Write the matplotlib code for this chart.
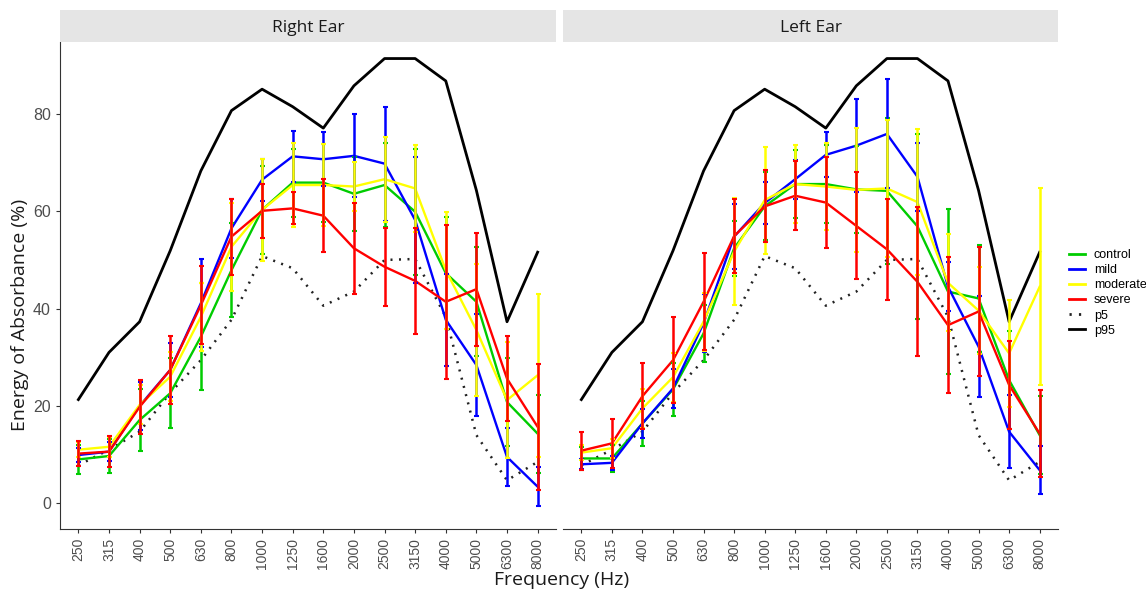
import matplotlib
matplotlib.use("Agg")
import matplotlib.pyplot as plt
from matplotlib.lines import Line2D
import numpy as np

freqs = ["250", "315", "400", "500", "630", "800", "1000", "1250", "1600",
         "2000", "2500", "3150", "4000", "5000", "6300", "8000"]

# normative percentiles (same in both ears)
p5 = [7.8, 11.0, 14.7, 22.7, 29.4, 37.7, 50.8, 48.3, 40.6, 43.5, 50.0, 50.2, 38.3, 14.0, 4.7, 8.5]
p95 = [21.3, 31.0, 37.3, 51.9, 68.3, 80.7, 85.1, 81.5, 77.1, 85.8, 91.4, 91.4, 86.8, 64.3, 37.3, 51.6]

# right ear: means and error half-widths
r_control = [9.0, 9.7, 17.1, 22.6, 34.2, 47.9, 60.3, 65.9, 65.9, 63.6, 65.4, 59.9, 47.3, 41.4, 20.8, 14.3]
r_control_err = [3.0, 3.5, 6.3, 7.2, 11.0, 9.6, 9.0, 7.0, 8.0, 7.6, 8.6, 13.0, 11.5, 11.2, 9.0, 8.0]
r_mild = [9.9, 10.6, 20.0, 27.4, 41.1, 56.5, 66.5, 71.3, 70.7, 71.4, 69.8, 58.2, 37.7, 28.4, 9.5, 3.4]
r_mild_err = [1.5, 2.0, 5.0, 5.5, 9.0, 6.0, 4.3, 5.2, 5.5, 8.5, 11.7, 13.0, 9.5, 10.5, 6.0, 4.0]
r_moderate = [11.0, 11.6, 20.2, 26.0, 38.3, 52.7, 60.3, 65.4, 65.4, 65.1, 66.6, 64.7, 47.9, 35.6, 21.2, 26.3]
r_moderate_err = [1.5, 2.0, 4.0, 5.0, 7.0, 9.0, 10.5, 8.7, 8.5, 5.0, 8.7, 9.0, 12.0, 13.5, 12.0, 16.7]
r_severe = [10.2, 10.6, 19.8, 27.4, 40.7, 54.8, 60.1, 60.6, 59.1, 52.4, 48.6, 45.7, 41.4, 44.0, 25.6, 15.7]
r_severe_err = [2.5, 3.2, 5.5, 7.0, 8.0, 7.8, 5.5, 3.3, 7.5, 9.3, 8.0, 10.9, 15.8, 11.6, 8.7, 13.0]

# left ear
l_control = [9.2, 9.2, 16.4, 23.4, 34.9, 52.4, 61.0, 65.6, 65.6, 64.5, 64.2, 56.9, 43.5, 42.1, 25.3, 14.0]
l_control_err = [2.4, 2.8, 4.7, 5.5, 5.8, 5.6, 7.0, 7.0, 8.0, 9.0, 15.0, 19.0, 17.0, 11.0, 10.0, 8.0]
l_mild = [8.0, 8.3, 16.4, 23.6, 37.0, 54.8, 61.7, 66.6, 71.6, 73.5, 75.9, 67.1, 44.5, 32.2, 14.7, 6.8]
l_mild_err = [1.0, 1.5, 3.0, 4.0, 6.0, 6.6, 4.3, 4.0, 4.6, 9.5, 11.2, 7.0, 5.0, 10.3, 7.5, 5.0]
l_moderate = [10.4, 11.3, 19.5, 25.9, 37.3, 51.7, 62.3, 65.6, 65.1, 64.4, 64.7, 61.9, 45.3, 39.6, 30.8, 44.5]
l_moderate_err = [1.5, 2.0, 4.0, 5.0, 6.0, 11.0, 11.0, 8.0, 9.0, 12.7, 14.0, 15.0, 10.0, 9.0, 11.0, 20.2]
l_severe = [10.8, 12.3, 22.0, 29.4, 41.4, 54.9, 61.0, 63.2, 61.8, 57.0, 52.2, 45.5, 36.6, 39.4, 24.3, 14.3]
l_severe_err = [3.9, 5.0, 6.8, 8.8, 10.0, 7.6, 7.4, 7.1, 9.4, 11.0, 10.4, 15.3, 14.0, 13.3, 9.0, 9.0]

groups = ["control", "mild", "moderate", "severe"]
colors = ["#00cc00", "#0000ff", "#ffff00", "#ff0000"]

panels = [
    ("Right Ear", [r_control, r_mild, r_moderate, r_severe],
     [r_control_err, r_mild_err, r_moderate_err, r_severe_err]),
    ("Left Ear", [l_control, l_mild, l_moderate, l_severe],
     [l_control_err, l_mild_err, l_moderate_err, l_severe_err]),
]

plt.rcParams['font.family'] = ['Liberation Sans', 'DejaVu Sans']

fig = plt.figure(figsize=(11.46, 5.94), dpi=100)
W, H = 1146.0, 594.0
x = np.arange(1, len(freqs) + 1)
dots = (0, (0.8, 2.6))

ax_boxes = [(60, 556), (563, 1058)]
top_px, bot_px = 42, 529
for k, (title, means, errs) in enumerate(panels):
    x0, x1 = ax_boxes[k]
    ax = fig.add_axes([x0 / W, 1 - bot_px / H, (x1 - x0) / W, (bot_px - top_px) / H])
    ax.plot(x, p95, color="black", lw=2.0, zorder=2)
    ax.plot(x, p5, color="#222222", lw=1.8, ls=dots, zorder=2)
    for m, c in zip(means, colors):
        ax.plot(x, m, color=c, lw=1.7, zorder=3)
    for m, e, c in zip(means, errs, colors):
        ax.errorbar(x, m, yerr=e, fmt="none", ecolor=c, elinewidth=1.8,
                    capsize=1.8, capthick=1.5, zorder=4)
    ax.set_xlim(0.4, 16.6)
    ax.set_ylim(-5.3, 94.8)
    ax.set_xticks(x)
    ax.set_xticklabels(freqs, rotation=90, fontsize=10, color="#4d4d4d")
    ax.set_yticks([0, 20, 40, 60, 80])
    ax.tick_params(axis="both", length=3, width=0.8, color="#333333")
    ax.tick_params(axis="y", labelsize=11.5, labelcolor="#4d4d4d")
    for s in ["top", "right"]:
        ax.spines[s].set_visible(False)
    ax.spines["bottom"].set_color("#333333")
    ax.spines["left"].set_color("#333333")
    if k == 1:
        ax.spines["left"].set_visible(False)
        ax.tick_params(axis="y", left=False, labelleft=False)
    # strip header
    sx = fig.add_axes([x0 / W, 1 - top_px / H, (x1 - x0) / W, 32 / H])
    sx.set_facecolor("#e5e5e5")
    sx.set_xticks([])
    sx.set_yticks([])
    for s in sx.spines.values():
        s.set_visible(False)
    sx.text(0.5, 0.45, title, ha="center", va="center", fontsize=12.5,
            color="#1a1a1a", family=["Open Sans", "DejaVu Sans"])

fig.text(20 / W, 1 - 315 / H, "Energy of Absorbance (%)", rotation=90,
         ha="center", va="center", fontsize=14, color="#1a1a1a",
         family=["Open Sans", "DejaVu Sans"])
fig.text(562 / W, 1 - 580 / H, "Frequency (Hz)", ha="center", va="center",
         fontsize=14, color="#1a1a1a", family=["Open Sans", "DejaVu Sans"])

handles = [Line2D([], [], color=c, lw=2) for c in colors]
handles.append(Line2D([], [], color="#222222", lw=2, ls=dots))
handles.append(Line2D([], [], color="black", lw=2))
leg = fig.legend(handles, groups + ["p5", "p95"], loc="upper left",
                 bbox_to_anchor=(1064 / W, 1 - 244 / H), frameon=False,
                 fontsize=9, handlelength=1.3, handletextpad=0.7,
                 labelspacing=0.25, borderaxespad=0)

fig.savefig("out.png", dpi=100)
